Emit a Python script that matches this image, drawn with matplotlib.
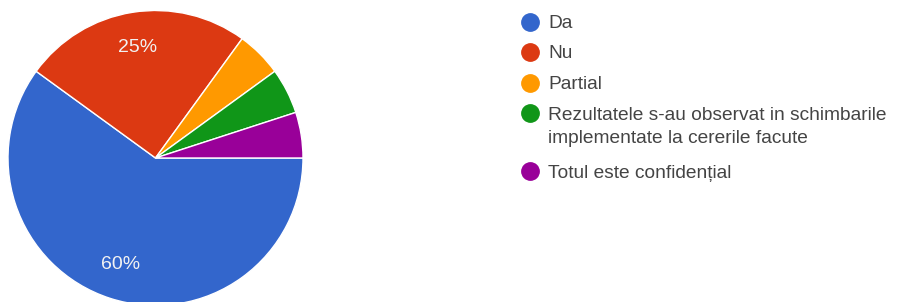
import matplotlib.pyplot as plt
from matplotlib.lines import Line2D

# Survey answers
categories = ["Da", "Nu", "Partial",
              "Rezultatele s-au observat in schimbarile\nimplementate la cererile facute",
              "Totul este confidențial"]
shares = [60, 25, 5, 5, 5]
colors = ["#3366cc", "#dc3912", "#ff9900", "#109618", "#990099"]

W, H = 900, 302
fig = plt.figure(figsize=(W / 100, H / 100), dpi=100)

# Pie axes placed in pixels: center (155.5, 158), radius 147.5
ax = fig.add_axes([8 / W, (H - 305.5) / H, 295 / W, 295 / H])
wedges, texts, autotexts = ax.pie(
    shares, colors=colors, startangle=0, counterclock=False,
    autopct=lambda p: f"{p:.0f}%" if p >= 10 else "", pctdistance=0.76,
    wedgeprops=dict(edgecolor="white", linewidth=1),
    textprops=dict(color="#f2f2f2", fontsize=14, family="Liberation Sans"))
ax.set_xlim(-1, 1)
ax.set_ylim(-1, 1)
ax.axis("off")

# Legend drawn by hand so the marker sits on the first line of each label
y = 21.5
for label, c in zip(categories, colors):
    fig.add_artist(Line2D([530 / W], [1 - y / H], marker="o", markersize=12.5,
                          markerfacecolor=c, markeredgecolor=c,
                          transform=fig.transFigure))
    lines = label.split("\n")
    for i, line in enumerate(lines):
        fig.text(548 / W, 1 - (y + 23.4 * i) / H, line, va="center_baseline",
                 ha="left", fontsize=13.8, family="Liberation Sans", color="#444444")
    y += 30.5 + 27.9 * (len(lines) - 1)

fig.savefig("out.png", dpi=100)
